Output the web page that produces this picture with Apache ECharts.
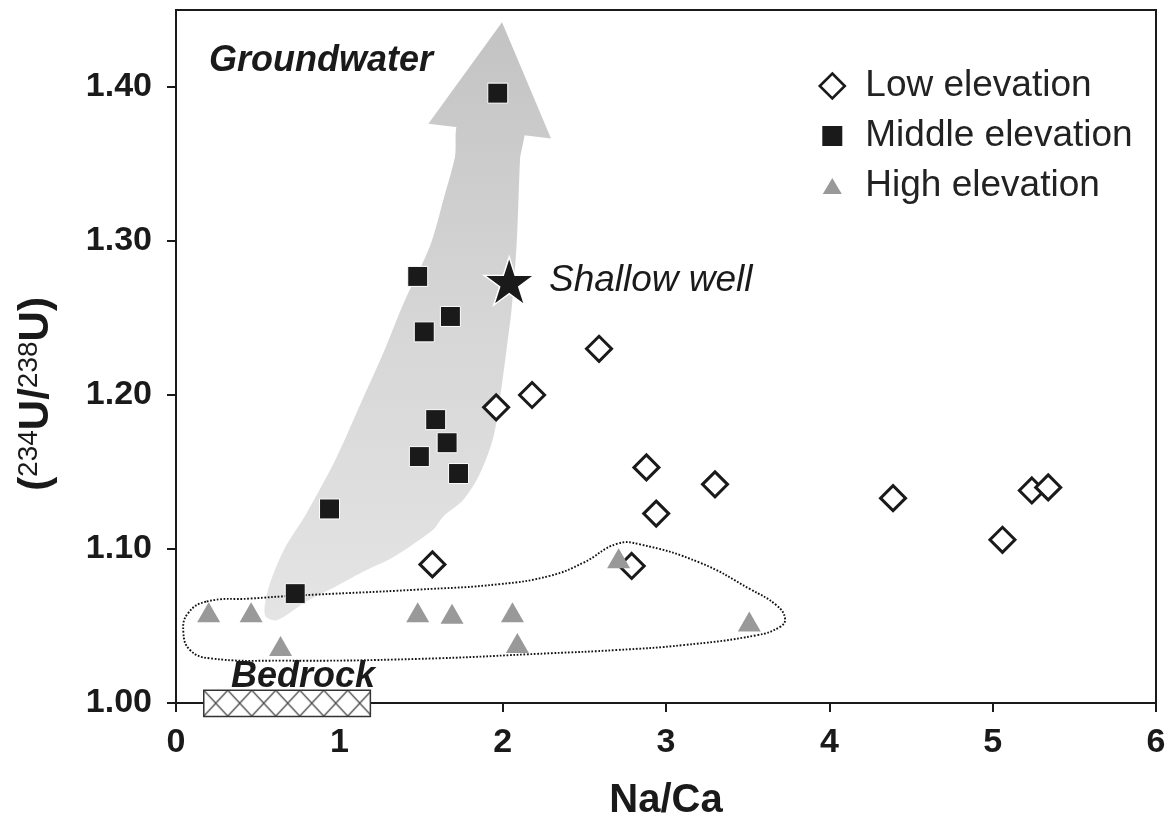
<!DOCTYPE html>
<html><head><meta charset="utf-8">
<script src="https://cdn.jsdelivr.net/npm/echarts@6/dist/echarts.min.js"></script>
<style>html,body{margin:0;padding:0;background:#fff}#c{width:1171px;height:826px}</style>
</head><body><div id="c"></div>
<script>
// ---- data ----
const xTicks = [0, 1, 2, 3, 4, 5, 6];
const yTicks = [1.0, 1.1, 1.2, 1.3, 1.4];
const lowElevation = [[1.57,1.090],[1.96,1.192],[2.18,1.200],[2.59,1.230],[2.88,1.153],[3.30,1.142],[2.94,1.123],[2.79,1.089],[4.39,1.133],[5.06,1.106],[5.24,1.138],[5.34,1.140]];
const middleElevation = [[1.97,1.396],[1.48,1.277],[1.68,1.251],[1.52,1.241],[1.59,1.184],[1.66,1.169],[1.49,1.160],[1.73,1.149],[0.94,1.126],[0.73,1.071]];
const highElevation = [[0.20,1.059],[0.46,1.059],[0.64,1.037],[1.48,1.059],[1.69,1.058],[2.06,1.059],[2.09,1.039],[2.71,1.094],[3.51,1.053]];
const shallowWell = [[2.04,1.274]];
// annotation shapes (data space)
const arrowHead = [[1.996,1.442],[2.296,1.3666],[1.545,1.3761]];
const arrowBody = [[1.74,1.378],[1.708,1.3546],[1.637,1.3268],[1.555,1.2968],[1.392,1.2593],[1.269,1.2272],[1.147,1.1983],[0.984,1.1597],[0.800,1.1233],[0.657,1.0987],[0.565,1.0740],[0.545,1.0569],[0.617,1.0537],[0.80,1.066],[0.984,1.076],[1.16,1.086],[1.31,1.0935],[1.45,1.103],[1.575,1.1126],[1.637,1.1211],[1.759,1.1319],[1.861,1.149],[1.943,1.1726],[1.984,1.1983],[2.025,1.2304],[2.055,1.2561],[2.086,1.299],[2.106,1.3525],[2.12,1.375]];
const bedrockEnvelope = [[0.188,1.0659],[0.453,1.0678],[0.729,1.0697],[1.474,1.0736],[1.984,1.0772],[2.290,1.0826],[2.494,1.0911],[2.698,1.1033],[2.841,1.1030],[3.208,1.0911],[3.514,1.0740],[3.678,1.0633],[3.729,1.0548],[3.698,1.0494],[3.555,1.0440],[3.106,1.0376],[2.698,1.0344],[2.290,1.0323],[1.474,1.0286],[0.657,1.0275],[0.208,1.0290],[0.086,1.0344],[0.045,1.0461],[0.073,1.0582]];
const bedrockRange = [0.17, 1.19, 0.9913, 1.0083]; // xMin, xMax, yMin, yMax

// ---- rendering ----
const FONT = 'Liberation Sans, Arial, Helvetica, sans-serif';
const INK = '#1a1a1a';

const pc = document.createElement('canvas');
pc.width = 24; pc.height = 26;
const g = pc.getContext('2d');
g.fillStyle = '#fff'; g.fillRect(0, 0, 24, 26);
g.strokeStyle = '#4a4a4a'; g.lineWidth = 1.3;
g.beginPath(); g.moveTo(0, 0); g.lineTo(24, 26); g.moveTo(24, 0); g.lineTo(0, 26); g.stroke();

const chart = echarts.init(document.getElementById('c'), null, {renderer: 'canvas'});

const option = {
  animation: false,
  grid: {left: 176, right: 15, top: 10, bottom: 117, show: true, borderColor: INK, borderWidth: 2},
  xAxis: {
    type: 'value', min: 0, max: 6, interval: 1,
    name: 'Na/Ca', nameLocation: 'middle', nameGap: 78,
    nameTextStyle: {fontFamily: FONT, fontSize: 40, fontWeight: 'bold', color: INK},
    axisLine: {lineStyle: {color: INK, width: 2}},
    axisTick: {show: true, inside: false, length: 9, lineStyle: {color: INK, width: 2}, customValues: xTicks},
    axisLabel: {fontFamily: FONT, fontSize: 34, fontWeight: 'bold', color: INK, margin: 23, customValues: xTicks},
    splitLine: {show: false}
  },
  yAxis: {
    type: 'value', min: 1.0, max: 1.45, interval: 0.1,
    axisLine: {lineStyle: {color: INK, width: 2}},
    axisTick: {show: true, inside: false, length: 9, lineStyle: {color: INK, width: 2}, customValues: yTicks},
    axisLabel: {fontFamily: FONT, fontSize: 34, fontWeight: 'bold', color: INK, margin: 24, customValues: yTicks,
      formatter: v => Number(v).toFixed(2)},
    splitLine: {show: false}
  },
  legend: {
    orient: 'vertical', left: 812, top: 61, itemGap: 10, itemWidth: 28, itemHeight: 28,
    selectedMode: false,
    textStyle: {fontFamily: FONT, fontSize: 37, color: '#222', lineHeight: 40, padding: [0, 0, 0, 14]},
    data: [
      {name: 'Low elevation', icon: 'path://M0,0M14,1.5L26.5,14L14,26.5L1.5,14ZM28,28',
        itemStyle: {color: '#fff', borderColor: INK, borderWidth: 2.6}},
      {name: 'Middle elevation', icon: 'path://M0,0M4,4L24,4L24,24L4,24ZM28,28',
        itemStyle: {color: INK, borderWidth: 0}},
      {name: 'High elevation', icon: 'path://M0,0M14,6L23.5,22L4.5,22ZM28,28',
        itemStyle: {color: '#999', borderWidth: 0}}
    ]
  },
  graphic: [
    {type: 'text', x: 209, y: 61, style: {text: 'Groundwater', fontFamily: FONT, fontSize: 36, fontWeight: 'bold', fontStyle: 'italic', fill: INK, align: 'left', verticalAlign: 'middle'}},
    {type: 'text', x: 231, y: 677, z: 10, style: {text: 'Bedrock', fontFamily: FONT, fontSize: 36, fontWeight: 'bold', fontStyle: 'italic', fill: INK, align: 'left', verticalAlign: 'middle'}},
    {type: 'text', x: 36, y: 394, rotation: Math.PI / 2,
      style: {text: '{a|(}{s|234}{a|U/}{s|238}{a|U)}', align: 'center', verticalAlign: 'middle', fill: INK,
        rich: {
          a: {fontFamily: FONT, fontSize: 42, fontWeight: 'bold', lineHeight: 42, fill: INK, verticalAlign: 'middle'},
          s: {fontFamily: FONT, fontSize: 28, lineHeight: 28, fill: INK, verticalAlign: 'top'}
        }}}
  ],
  series: [
    {
      type: 'custom', name: 'arrow', silent: true, z: 1,
      data: [arrowHead[0]],
      renderItem: (params, api) => {
        const tip = api.coord(arrowHead[0]);
        const bottom = api.coord(arrowBody[11]);
        const grad = new echarts.graphic.LinearGradient(0, tip[1], 0, bottom[1], [
          {offset: 0, color: '#c3c3c3'}, {offset: 0.5, color: '#d6d6d6'}, {offset: 1, color: '#e4e4e4'}], true);
        return {type: 'group', children: [
          {type: 'polygon', shape: {points: arrowBody.map(p => api.coord(p)), smooth: 0.3}, style: {fill: grad}},
          {type: 'polygon', shape: {points: arrowHead.map(p => api.coord(p))}, style: {fill: grad}}
        ]};
      }
    },
    {
      type: 'custom', name: 'envelope', silent: true, z: 1,
      data: [bedrockEnvelope[0]],
      renderItem: (params, api) => ({
        type: 'polygon', shape: {points: bedrockEnvelope.map(p => api.coord(p)), smooth: 0.45},
        style: {fill: null, stroke: '#111', lineWidth: 1.9, lineDash: [1.7, 1.7]}
      })
    },
    {
      type: 'custom', name: 'bedrock', silent: true, z: 5, clip: false,
      data: [[bedrockRange[0], bedrockRange[2]]],
      renderItem: (params, api) => {
        const p0 = api.coord([bedrockRange[0], bedrockRange[3]]);
        const p1 = api.coord([bedrockRange[1], bedrockRange[2]]);
        return {type: 'rect', shape: {x: p0[0], y: p0[1], width: p1[0] - p0[0], height: p1[1] - p0[1]},
          style: {fill: {image: pc, repeat: 'repeat', x: p0[0], y: p0[1]}, stroke: '#333', lineWidth: 1.5}};
      }
    },
    {
      type: 'scatter', name: 'Low elevation', data: lowElevation, symbol: 'diamond', symbolSize: 25,
      itemStyle: {color: '#fff', borderColor: INK, borderWidth: 3, opacity: 1}, z: 3
    },
    {
      type: 'scatter', name: 'Middle elevation', data: middleElevation, symbol: 'rect', symbolSize: 20,
      itemStyle: {color: INK, borderColor: '#fff', borderWidth: 1, opacity: 1}, z: 3
    },
    {
      type: 'scatter', name: 'High elevation', data: highElevation, symbol: 'triangle', symbolSize: [23, 20],
      itemStyle: {color: '#999', opacity: 1}, z: 3
    },
    {
      type: 'scatter', name: 'Shallow well', data: shallowWell,
      symbol: 'path://M100,0L122.45,69.1L195.1,69.1L136.33,111.8L158.8,180.9L100,138.2L41.2,180.9L63.67,111.8L4.9,69.1L77.55,69.1Z',
      symbolSize: [50, 48], itemStyle: {color: INK, borderColor: '#fff', borderWidth: 1.5, opacity: 1}, z: 4,
      label: {show: true, position: 'right', distance: 14, formatter: 'Shallow well',
        fontFamily: FONT, fontSize: 37, fontStyle: 'italic', color: INK}
    }
  ]
};
chart.setOption(option);
</script>
</body></html>
